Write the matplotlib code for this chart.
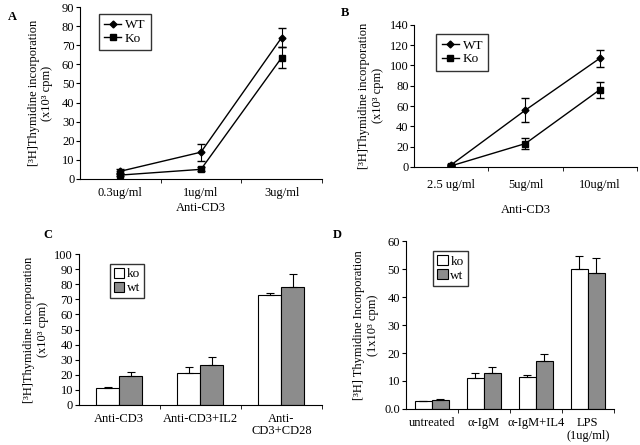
import numpy as np
import matplotlib
matplotlib.use('Agg')
import matplotlib.pyplot as plt
from matplotlib.ticker import FixedLocator, FuncFormatter

plt.rcParams['font.family'] = ['Liberation Serif', 'DejaVu Serif']
plt.rcParams['font.size'] = 9

# ---- panel A data
a_cats = ['0.3ug/ml', '1ug/ml', '3ug/ml']
a_wt = [4, 14, 74]
a_wt_err = [1, 4.5, 5]
a_ko = [2, 5, 63.5]
a_ko_err = [0.5, 1, 5.5]

# ---- panel B data
b_cats = ['2.5 ug/ml', '5ug/ml', '10ug/ml']
b_wt = [2, 56, 107]
b_wt_err = [1, 12, 8.5]
b_ko = [1, 23, 76]
b_ko_err = [0.5, 5.5, 8]

# ---- panel C data
c_cats = ['Anti-CD3', 'Anti-CD3+IL2', 'Anti-\nCD3+CD28']
c_ko = [11, 21, 73]
c_ko_err = [1.2, 4, 1.5]
c_wt = [19.5, 26.5, 78]
c_wt_err = [2.5, 5.5, 9]

# ---- panel D data
d_cats = ['untreated', 'α-IgM', 'α-IgM+IL4', 'LPS\n(1ug/ml)']
d_ko = [2.8, 11, 11.5, 50]
d_ko_err = [0.2, 1.8, 0.7, 4.8]
d_wt = [3.3, 13, 17.2, 48.5]
d_wt_err = [0.3, 2, 2.3, 5.5]

gray = '#8c8c8c'

fig = plt.figure(figsize=(6.4, 4.45), dpi=100)
fig.set_facecolor('white')


def style_axes(ax, n):
    ax.spines['top'].set_visible(False)
    ax.spines['right'].set_visible(False)
    ax.spines['left'].set_linewidth(0.8)
    ax.spines['bottom'].set_linewidth(0.8)
    ax.set_xlim(-0.5, n - 0.5)
    ax.set_xticks(range(n))
    ax.tick_params(axis='x', which='major', length=0, pad=6, labelsize=9)
    ax.xaxis.set_minor_locator(FixedLocator([i + 0.5 for i in range(n)]))
    ax.tick_params(axis='x', which='minor', length=3, direction='out')
    ax.tick_params(axis='y', length=3, direction='out', labelsize=9, pad=1)


def line_panel(ax, wt, wt_err, ko, ko_err):
    x = np.arange(len(wt))
    # 误差线单独画，图例里只要线和点
    ax.errorbar(x, wt, yerr=wt_err, fmt='none', ecolor='black', capsize=3, elinewidth=0.8)
    ax.errorbar(x, ko, yerr=ko_err, fmt='none', ecolor='black', capsize=3, elinewidth=0.8)
    ax.plot(x, wt, color='black', marker='D', ms=3.5, lw=1, label='WT')
    ax.plot(x, ko, color='black', marker='s', ms=4.5, lw=1, label='Ko')


# ================= A
axA = fig.add_axes([0.125, 0.598, 0.378, 0.386])
line_panel(axA, a_wt, a_wt_err, a_ko, a_ko_err)
style_axes(axA, len(a_cats))
axA.set_xticklabels(a_cats)
axA.set_ylim(0, 90)
axA.set_yticks(range(0, 91, 10))
axA.set_xlabel('Anti-CD3', fontsize=9, labelpad=2)
axA.set_ylabel('[³H]Thymidine incorporation\n(x10³ cpm)', fontsize=9, labelpad=6)
axA.legend(loc='upper left', bbox_to_anchor=(0.05, 1.0), frameon=True, fancybox=False,
           edgecolor='black', fontsize=9.5, handlelength=1.3, borderpad=0.4,
           labelspacing=0.1, handletextpad=0.3)
fig.text(0.012, 0.955, 'A', fontsize=9, fontweight='bold')

# ================= B
axB = fig.add_axes([0.647, 0.625, 0.348, 0.319])
line_panel(axB, b_wt, b_wt_err, b_ko, b_ko_err)
style_axes(axB, len(b_cats))
axB.set_xticklabels(b_cats)
axB.tick_params(axis='x', which='major', pad=9)
axB.set_ylim(0, 140)
axB.set_yticks(range(0, 141, 20))
axB.set_xlabel('Anti-CD3', fontsize=9, labelpad=9)
axB.set_ylabel('[³H]Thymidine incorporation\n(x10³ cpm)', fontsize=9, labelpad=4)
axB.legend(loc='upper left', bbox_to_anchor=(0.07, 0.98), frameon=True, fancybox=False,
           edgecolor='black', fontsize=9.5, handlelength=1.3, borderpad=0.4,
           labelspacing=0.1, handletextpad=0.3)
fig.text(0.533, 0.965, 'B', fontsize=9, fontweight='bold')

# ================= C
axC = fig.add_axes([0.123, 0.090, 0.380, 0.339])
x = np.arange(len(c_cats))
w = 0.285
axC.bar(x - w / 2, c_ko, w, color='white', edgecolor='black', lw=0.8, label='ko',
        yerr=[[0] * 3, c_ko_err], capsize=3, error_kw=dict(elinewidth=0.8, capthick=0.8))
axC.bar(x + w / 2, c_wt, w, color=gray, edgecolor='black', lw=0.8, label='wt',
        yerr=[[0] * 3, c_wt_err], capsize=3, error_kw=dict(elinewidth=0.8, capthick=0.8))
style_axes(axC, len(c_cats))
axC.set_xticklabels(c_cats, linespacing=1.0)
axC.set_ylim(0, 100)
axC.set_yticks(range(0, 101, 10))
axC.set_ylabel('[³H]Thymidine incorporation\n(x10³ cpm)', fontsize=9, labelpad=4)
axC.legend(loc='upper left', bbox_to_anchor=(0.1, 0.98), frameon=True, fancybox=False,
           edgecolor='black', fontsize=9.5, handlelength=0.8, handleheight=0.8,
           borderpad=0.3, labelspacing=0.1, handletextpad=0.2)
fig.text(0.067, 0.465, 'C', fontsize=9, fontweight='bold')

# ================= D
axD = fig.add_axes([0.634, 0.081, 0.325, 0.377])
x = np.arange(len(d_cats))
w = 0.33
axD.bar(x - w / 2, d_ko, w, color='white', edgecolor='black', lw=0.8, label='ko',
        yerr=[[0] * 4, d_ko_err], capsize=3, error_kw=dict(elinewidth=0.8, capthick=0.8))
axD.bar(x + w / 2, d_wt, w, color=gray, edgecolor='black', lw=0.8, label='wt',
        yerr=[[0] * 4, d_wt_err], capsize=3, error_kw=dict(elinewidth=0.8, capthick=0.8))
style_axes(axD, len(d_cats))
axD.set_xticklabels(d_cats, linespacing=1.1)
axD.set_ylim(0, 60)
axD.set_yticks(range(0, 61, 10))
axD.yaxis.set_major_formatter(FuncFormatter(lambda v, p: '0.0' if v == 0 else '%d' % v))
axD.set_ylabel('[³H] Thymidine Incorporation\n(1x10³ cpm)', fontsize=9, labelpad=4)
axD.legend(loc='upper left', bbox_to_anchor=(0.1, 0.98), frameon=True, fancybox=False,
           edgecolor='black', fontsize=9.5, handlelength=0.8, handleheight=0.8,
           borderpad=0.3, labelspacing=0.1, handletextpad=0.2)
fig.text(0.52, 0.465, 'D', fontsize=9, fontweight='bold')

plt.savefig('out.png', dpi=100)
